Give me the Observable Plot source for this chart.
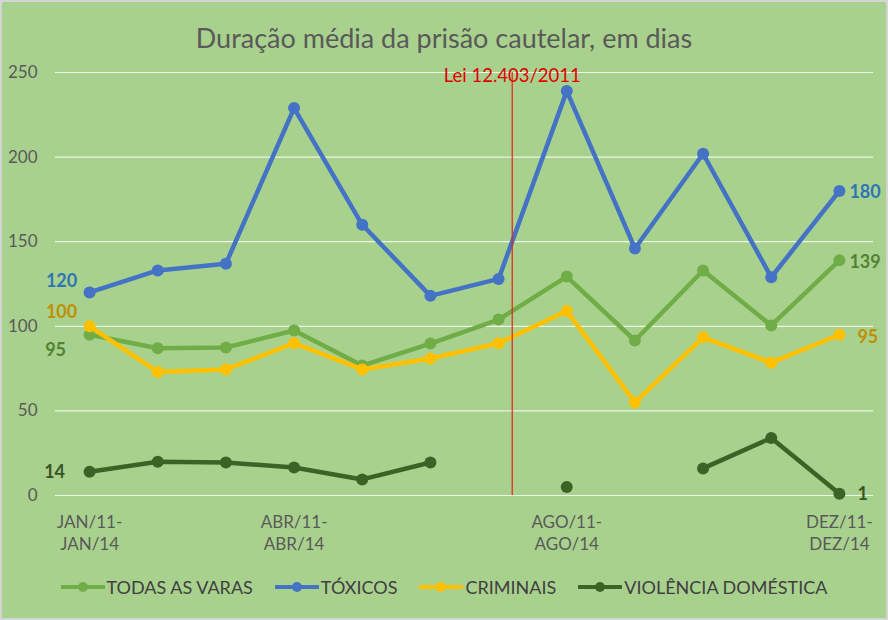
<!DOCTYPE html>
<html>
<head>
<meta charset="utf-8">
<script src="https://cdn.jsdelivr.net/npm/d3@7"></script>
<script src="https://cdn.jsdelivr.net/npm/@observablehq/plot@0.6"></script>
<style>
  html, body { margin: 0; padding: 0; background: #a9d18e; }
  #wrap { position: relative; width: 888px; height: 620px; background: #a9d18e;
          box-shadow: inset 0 0 0 2px #d4d4d4; font-family: Lato, "Open Sans", sans-serif; overflow: hidden; }
  #title { position: absolute; left: 0; top: 23px; width: 888px; line-height: 30px; text-align: center;
           font-size: 27px; color: #595959; }
  #chart { position: absolute; left: 0; top: 60px; }
  #chart svg { display: block; }
  #legend { position: absolute; left: 0; top: 575px; width: 888px; height: 24px; line-height: 24px; display: flex;
            justify-content: center; gap: 22px; font-size: 18px; color: #404040; }
  .item { display: flex; align-items: center; gap: 2px; }
</style>
</head>
<body>
<div id="wrap">
  <div id="title"></div>
  <div id="chart"></div>
  <div id="legend"></div>
</div>
<script>
const titleText = "Duração média da prisão cautelar, em dias";
const months = ["JAN","FEV","MAR","ABR","MAI","JUN","JUL","AGO","SET","OUT","NOV","DEZ"];
const shownTicks = [0, 3, 7, 11];
const yTicks = [0, 50, 100, 150, 200, 250];
const seriesNames = ["TODAS AS VARAS", "TÓXICOS", "CRIMINAIS", "VIOLÊNCIA DOMÉSTICA"];
const seriesColors = ["#70ad47", "#4472c4", "#ffc000", "#3b6326"];
const todasAsVaras = [95, 87, 87.5, 97.5, 76.8, 89.8, 104, 129.4, 91.6, 133, 100.5, 139];
const toxicos = [120, 133, 137, 229, 160, 118, 128, 239, 146, 202, 129, 180];
const criminais = [100, 73, 74.5, 90, 74.5, 81, 90, 109, 55, 93.5, 78.5, 95];
const violencia = [14, 20, 19.5, 16.5, 9.5, 19.5, null, 5, null, 16, 34, 1];
const leiPos = 6.2;
const leiLabel = "Lei 12.403/2011";
// data labels: series index, point index, label colour
const labelSeries = [1, 2, 0, 3, 1, 0, 2, 3];
const labelPoint = [0, 0, 0, 0, 11, 11, 11, 11];
const labelColors = ["#2e75b6", "#bf9000", "#548235", "#375623", "#2e75b6", "#548235", "#bf9000", "#375623"];

const allValues = [todasAsVaras, toxicos, criminais, violencia];
const rows = [];
allValues.forEach((vals, s) => vals.forEach((v, i) => rows.push({s, i, v})));

document.getElementById("title").textContent = titleText;

// label placement offsets (styles)
const labelOffsets = [
  {dx: -28, dy: -11, anchor: "middle"},
  {dx: -28, dy: -14, anchor: "middle"},
  {dx: -34, dy: 15, anchor: "middle"},
  {dx: -35, dy: 0, anchor: "middle"},
  {dx: 10, dy: 1, anchor: "start"},
  {dx: 10, dy: 2, anchor: "start"},
  {dx: 18, dy: 2, anchor: "start"},
  {dx: 18, dy: 0, anchor: "start"}
];
const labels = labelSeries.map((s, k) => ({s, i: labelPoint[k], v: allValues[s][labelPoint[k]], c: labelColors[k], ...labelOffsets[k]}));

const marks = [
  Plot.ruleY(yTicks, {x1: -0.5, x2: 11.5, stroke: "#eef5e9", strokeWidth: 1.2}),
  Plot.axisY({ticks: yTicks, tickSize: 0, tickPadding: 18, fontSize: 17, fill: "#595959", label: null}),
  Plot.axisX({ticks: shownTicks, tickSize: 0, tickPadding: 17, fontSize: 17, lineHeight: 1.3, fill: "#595959", label: null,
    tickFormat: i => `${months[i]}/11-\n${months[i]}/14`})
];
seriesNames.forEach((name, s) => {
  const d = rows.filter(r => r.s === s);
  marks.push(Plot.line(d, {x: "i", y: "v", stroke: seriesColors[s], strokeWidth: 4.5, strokeLinejoin: "round", strokeLinecap: "round"}));
  marks.push(Plot.dot(d.filter(r => r.v != null), {x: "i", y: "v", r: 6, fill: seriesColors[s], stroke: "none"}));
});
marks.push(Plot.ruleX([leiPos], {y1: 0, y2: 250, stroke: "#e3231c", strokeWidth: 1.2}));
marks.push(Plot.text([leiPos], {x: d => d, frameAnchor: "top", dy: -4, text: () => leiLabel, fill: "#e00000", fontSize: 18.5}));
labels.forEach(l => {
  marks.push(Plot.text([l], {x: "i", y: "v", text: d => String(Math.round(d.v)), dx: l.dx, dy: l.dy, textAnchor: l.anchor,
    fill: l.c, fontSize: 18, fontWeight: "bold"}));
});

const chart = Plot.plot({
  width: 888, height: 500,
  marginLeft: 55, marginRight: 15, marginTop: 12, marginBottom: 65,
  x: {type: "linear", domain: [-0.5, 11.5], axis: null},
  y: {domain: [0, 250], axis: null},
  style: {background: "transparent", fontFamily: "Lato, 'Open Sans', sans-serif", overflow: "visible", color: "#595959"},
  marks
});
document.getElementById("chart").appendChild(chart);

const legend = document.getElementById("legend");
seriesNames.forEach((name, s) => {
  const item = document.createElement("div");
  item.className = "item";
  item.innerHTML = `<svg width="44" height="14"><line x1="0" y1="7" x2="44" y2="7" stroke="${seriesColors[s]}" stroke-width="4"/><circle cx="22" cy="7" r="5" fill="${seriesColors[s]}"/></svg><span>${name}</span>`;
  legend.appendChild(item);
});
</script>
</body>
</html>
